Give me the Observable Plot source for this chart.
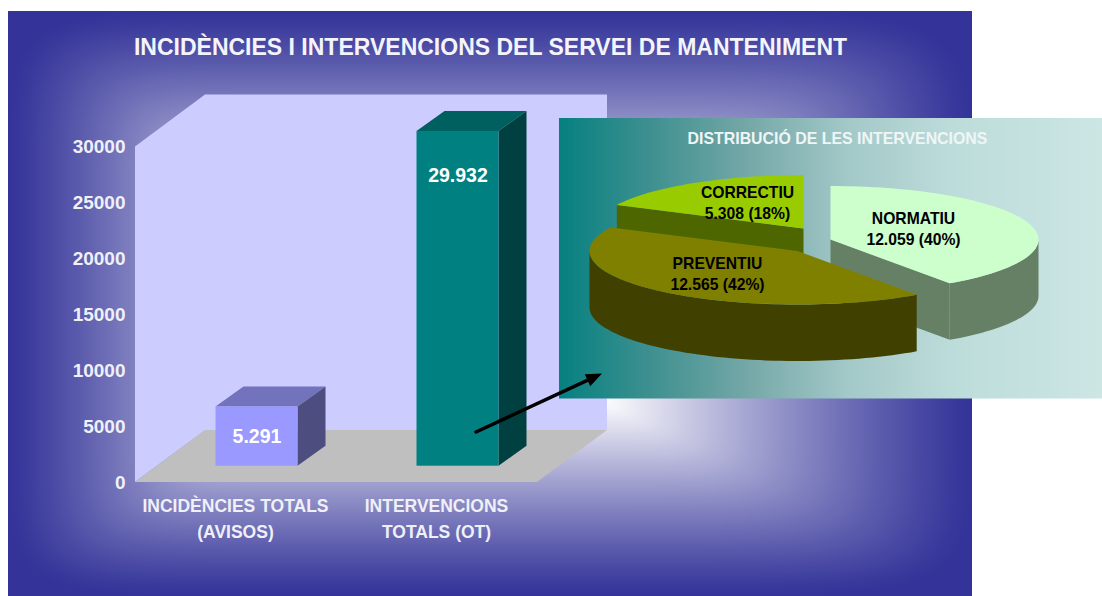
<!DOCTYPE html>
<html>
<head>
<meta charset="utf-8">
<script src="https://cdn.jsdelivr.net/npm/d3@7"></script>
<script src="https://cdn.jsdelivr.net/npm/@observablehq/plot@0.6"></script>
<style>
html,body{margin:0;padding:0;background:#fff;overflow:hidden}
#stage{position:relative;width:1102px;height:596px}
#stage svg{position:absolute;left:0;top:0;background:transparent;overflow:visible}
</style>
</head>
<body>
<div id="stage"></div>
<script>
const title = "INCIDÈNCIES I INTERVENCIONS DEL SERVEI DE MANTENIMENT";
const categories = ["INCIDÈNCIES TOTALS\n(AVISOS)", "INTERVENCIONS\nTOTALS (OT)"];
const totals = [5291, 29932];
const frontColors = ["#9999ff", "#008080"];
const topColors = ["#7373bd", "#006060"];
const sideColors = ["#4d4d80", "#004040"];

const pieTitle = "DISTRIBUCIÓ DE LES INTERVENCIONS";
const pieNames = ["NORMATIU", "PREVENTIU", "CORRECTIU"];
const pieValues = [12059, 12565, 5308];
const pieTop = ["#ccffcc", "#808000", "#99cc00"];
const pieSide = ["#668066", "#404000", "#4d6600"];

const font = '"Liberation Sans", Arial, sans-serif';
const W = 1102, H = 596;
const stage = document.getElementById("stage");
const num = d3.formatLocale({decimal: ",", thousands: ".", grouping: [3], currency: ["", ""]}).format(",d");
const rows = categories.map((c, i) => ({c, v: totals[i], i}));

/* ---------- layer 1: rectangular path-gradient panel with an off-centre focus ---------- */
const panel = {x1: 7.5, x2: 971.5, y1: 10.5, y2: 596};
const focus = {x1: 300, x2: 600, y1: 230, y2: 400};
const away = (v, lo, hi, a, b) => v < a ? (a - v) / (a - lo) : v > b ? (v - b) / (hi - b) : 0;
const softMax = (a, b) => Math.min(1, Math.pow(a ** 6 + b ** 6, 1 / 6));
const backdrop = Plot.plot({
  width: W, height: H, margin: 0,
  x: {domain: [0, W], range: [0, W], axis: null},
  y: {domain: [0, H], range: [0, H], axis: null},
  color: {type: "linear", domain: [0, 1], range: ["#333399", "#ffffff"]},
  style: {background: "transparent"},
  marks: [
    Plot.raster({
      ...panel, pixelSize: 1,
      fill: (x, y) => Math.pow(1 - softMax(
        away(x, panel.x1, panel.x2, focus.x1, focus.x2),
        away(y, panel.y1, panel.y2, focus.y1, focus.y2)), 1.15)
    })
  ]
});
stage.append(backdrop);

/* ---------- layer 2: the 3-D column chart ---------- */
const WALL = {dx: 70, dy: 52}, BAR = {dx: 28, dy: 20}, LIFT = {dx: 21.5, dy: 16.3};
const svgNS = "http://www.w3.org/2000/svg";
function poly(g, pts, fill) {
  const p = document.createElementNS(svgNS, "polygon");
  p.setAttribute("points", pts.map(d => d.join(",")).join(" "));
  p.setAttribute("fill", fill);
  g.append(p);
}
const chamber = (index, {x, y}) => {
  const g = document.createElementNS(svgNS, "g");
  const [x0, x1] = x.range();
  const y0 = y(0), yt = y(30000);
  poly(g, [[x0, y0], [x0, yt], [x0 + WALL.dx, yt - WALL.dy], [x1 + WALL.dx, yt - WALL.dy], [x1 + WALL.dx, y0 - WALL.dy], [x0 + WALL.dx, y0 - WALL.dy]], "#ccccff");
  poly(g, [[x0, y0], [x0 + WALL.dx, y0 - WALL.dy], [x1 + WALL.dx, y0 - WALL.dy], [x1, y0]], "#bfbfbf");
  return g;
};
const barFaces = (index, {x, y}) => {
  const g = document.createElementNS(svgNS, "g");
  rows.forEach(r => {
    const l = x(r.c) + LIFT.dx, w = x.bandwidth(), b = y(0) - LIFT.dy, t = y(r.v) - LIFT.dy;
    poly(g, [[l, t], [l + BAR.dx, t - BAR.dy], [l + w + BAR.dx, t - BAR.dy], [l + w, t]], topColors[r.i]);
    poly(g, [[l + w, t], [l + w + BAR.dx, t - BAR.dy], [l + w + BAR.dx, b - BAR.dy], [l + w, b]], sideColors[r.i]);
  });
  return g;
};
const chart = Plot.plot({
  width: W, height: H,
  marginLeft: 135, marginRight: 565, marginTop: 146.5, marginBottom: 114,
  x: {domain: categories, paddingInner: 0.592, paddingOuter: 0.296, label: null},
  y: {domain: [0, 30000], label: null},
  style: {background: "transparent", fontFamily: font},
  marks: [
    chamber,
    barFaces,
    Plot.barY(rows, {x: "c", y: "v", fill: d => frontColors[d.i], dx: LIFT.dx, dy: -LIFT.dy}),
    Plot.axisY({ticks: [0, 5000, 10000, 15000, 20000, 25000, 30000], tickFormat: d => String(d), tickSize: 0, tickPadding: 10,
      fontSize: 19, fontWeight: "bold", fill: "#f0f0f8", label: null}),
    Plot.axisX({tickSize: 0, tickPadding: 11, fontSize: 17.5, fontWeight: "bold", fill: "#f0f0f8", label: null, lineHeight: 1.49}),
    Plot.text(rows.filter(d => d.i === 0), {x: "c", y: d => d.v / 2, text: d => num(d.v), dx: LIFT.dx, dy: -LIFT.dy,
      fontSize: 19.5, fontWeight: "bold", fill: "white"}),
    Plot.text(rows.filter(d => d.i === 1), {x: "c", y: "v", text: d => num(d.v), dx: LIFT.dx, dy: 28,
      fontSize: 19.5, fontWeight: "bold", fill: "white"}),
    Plot.text([title], {text: d => d, frameAnchor: "top", dx: 490 - 336, dy: -99, fontSize: 23, fontWeight: "bold", fill: "#f4f4fa", lineAnchor: "middle"})
  ]
});
stage.append(chart);

/* ---------- layer 3: inset exploded pie and arrow ---------- */
const inset = {x1: 558.5, x2: W, y1: 117.5, y2: 398};
const total = d3.sum(pieValues);
const RX = 208, RY = 53.5, DEPTH = 56.5;
const centres = [[830, 239], [797, 250.5], [803, 228]];
let acc = -90;
const sweeps = pieValues.map(v => { const a0 = acc; acc += v / total * 360; return [a0, acc]; });
const rad = Math.PI / 180;
const arcPts = (c, a0, a1, lift = 0) => {
  const out = [];
  const n = Math.max(2, Math.ceil(Math.abs(a1 - a0) / 2));
  for (let k = 0; k <= n; ++k) {
    const a = (a0 + (a1 - a0) * k / n) * rad;
    out.push({x: c[0] + RX * Math.cos(a), y: c[1] + RY * Math.sin(a) + lift});
  }
  return out;
};
const faceMark = (pts, fill) => Plot.line(pts, {x: "x", y: "y", fill, stroke: "none", curve: "linear"});
const topFace = i => faceMark([{x: centres[i][0], y: centres[i][1]}, ...arcPts(centres[i], ...sweeps[i])], pieTop[i]);
const outerWall = (i, a0, a1) => faceMark([...arcPts(centres[i], a0, a1), ...arcPts(centres[i], a1, a0, DEPTH)], pieSide[i]);
const cutWall = (i, a) => {
  const c = centres[i], e = arcPts(c, a, a)[0];
  return faceMark([{x: c[0], y: c[1]}, e, {x: e.x, y: e.y + DEPTH}, {x: c[0], y: c[1] + DEPTH}], pieSide[i]);
};
const pct = v => `${num(v)} (${Math.round(v / total * 100)}%)`;
const pieLabels = [
  {name: pieNames[0], value: pct(pieValues[0]), x: 913, y: 218},
  {name: pieNames[1], value: pct(pieValues[1]), x: 717, y: 263},
  {name: pieNames[2], value: pct(pieValues[2]), x: 747, y: 192}
];
const pointer = {x1: 475.5, y1: 431.5, x2: 601.5, y2: 373};
const heading = Math.atan2(pointer.x2 - pointer.x1, pointer.y1 - pointer.y2) / rad;
const arrowHead = {draw(ctx, l) { ctx.moveTo(0, 0); ctx.lineTo(-6.5, l); ctx.lineTo(6.5, l); ctx.closePath(); }};
const overlay = Plot.plot({
  width: W, height: H, margin: 0,
  x: {domain: [0, W], range: [0, W], axis: null},
  y: {domain: [0, H], range: [0, H], axis: null},
  color: {type: "linear", domain: [0, 0.17, 0.35, 0.53, 0.72, 1],
          range: ["#068080", "#3f9090", "#76a8a8", "#a3c8c8", "#bcdcda", "#cce6e4"]},
  style: {background: "transparent", fontFamily: font},
  marks: [
    Plot.raster({...inset, pixelSize: 1, fill: (x, y) => (x - inset.x1) / (inset.x2 - inset.x1)}),
    Plot.text([pieTitle], {x: () => 837, y: () => 138.5, text: d => d, fontSize: 15.9, fontWeight: "bold", fill: "#eef6f6"}),
    cutWall(2, sweeps[2][0]),
    topFace(2),
    cutWall(0, sweeps[0][1]),
    outerWall(0, 0, sweeps[0][1]),
    topFace(0),
    outerWall(1, sweeps[1][0], 180),
    topFace(1),
    Plot.text(pieLabels, {x: "x", y: "y", text: "name", fontSize: 15.7, fontWeight: "bold", fill: "#000"}),
    Plot.text(pieLabels, {x: "x", y: d => d.y + 21, text: "value", fontSize: 15.7, fontWeight: "bold", fill: "#000"}),
    Plot.link([pointer], {x1: "x1", y1: "y1", x2: d => d.x1 + (d.x2 - d.x1) * 0.9, y2: d => d.y1 + (d.y2 - d.y1) * 0.9, stroke: "#000", strokeWidth: 3.5, strokeLinecap: "round"}),
    Plot.vector([pointer], {x: "x2", y: "y2", length: 16, rotate: heading, anchor: "start", shape: arrowHead, fill: "#000", stroke: "none"})
  ]
});
stage.append(overlay);
</script>
</body>
</html>
